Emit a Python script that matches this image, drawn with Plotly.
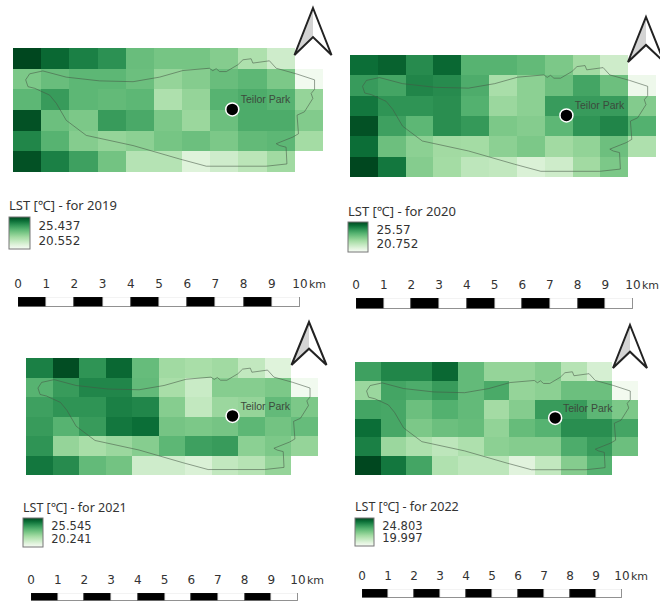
import plotly.graph_objects as go

YEARS = [2019, 2020, 2021, 2022]
LST_MAX = ["25.437", "25.57", "25.545", "24.803"]
LST_MIN = ["20.552", "20.752", "20.241", "19.997"]
N = None
LST_2019 = [
    [25.44, 24.95, 24.56, 24.26, 23.29, 23.09, 23.09, 22.85, 22.16, 21.53, N],
    [22.99, 23.29, 23.48, 23.48, 23.24, 22.60, 22.85, 23.29, 23.48, 22.99, 20.70],
    [23.48, 24.07, 23.48, 23.39, 23.48, 22.16, 22.60, 23.58, 23.73, 23.58, 22.60],
    [25.29, 23.24, 22.99, 24.07, 23.78, 22.99, 22.51, 23.24, 23.73, 23.73, 22.90],
    [24.46, 23.58, 22.85, 22.60, 22.75, 23.09, 23.24, 22.99, 23.39, 23.48, 22.36],
    [25.29, 24.56, 23.97, 23.14, 22.02, 22.02, 21.19, 21.53, 21.92, 22.41, N],
]
LST_2020 = [
    [24.99, 25.18, 24.51, 25.09, 23.74, 23.74, 23.55, 23.16, 22.58, 21.72, N],
    [24.22, 24.03, 24.61, 24.51, 23.88, 22.44, 22.92, 23.40, 24.03, 23.40, 20.99],
    [24.85, 24.37, 24.37, 24.46, 23.79, 22.68, 22.92, 24.22, 24.22, 24.22, 23.06],
    [25.43, 24.12, 23.64, 24.46, 24.27, 23.16, 23.02, 23.64, 24.37, 24.61, 23.79],
    [24.99, 23.40, 22.92, 22.58, 22.53, 22.92, 23.16, 22.58, 22.82, 23.40, 22.34],
    [25.57, 24.85, 23.02, 22.53, 22.05, 21.96, 21.48, 21.72, 22.58, 23.16, N],
]
LST_2021 = [
    [24.59, 25.44, 24.22, 25.01, 23.26, 22.26, 22.10, 22.26, 21.57, 20.93, N],
    [23.53, 24.06, 24.48, 24.48, 23.32, 22.10, 21.41, 22.73, 22.73, 22.89, 20.40],
    [23.95, 24.22, 24.22, 24.59, 24.48, 22.73, 21.57, 22.36, 22.47, 23.32, 22.89],
    [24.06, 23.53, 24.06, 24.75, 24.91, 23.00, 22.89, 23.00, 23.42, 23.05, 23.26],
    [24.22, 22.47, 22.10, 22.36, 22.73, 23.42, 23.95, 24.06, 22.63, 22.89, 22.47],
    [24.75, 24.38, 23.32, 23.05, 21.30, 21.30, 21.04, 21.57, 21.83, 22.47, N],
]
LST_2022 = [
    [23.36, 23.84, 23.84, 24.32, 22.78, 22.02, 22.02, 22.26, 21.44, 20.81, N],
    [21.92, 23.27, 23.12, 23.46, 22.78, 23.17, 22.02, 22.16, 22.64, 22.64, 20.14],
    [23.27, 23.22, 22.64, 23.03, 22.78, 21.78, 22.26, 23.46, 23.46, 22.88, 22.40],
    [24.23, 23.22, 22.40, 22.64, 22.74, 22.06, 22.74, 22.98, 23.70, 23.70, 23.27],
    [23.94, 21.92, 21.58, 21.29, 21.58, 22.16, 22.26, 22.26, 23.12, 23.46, 22.64],
    [24.80, 24.08, 23.27, 21.54, 21.29, 21.29, 20.57, 21.20, 22.26, 22.98, N],
]
GRIDS = [LST_2019, LST_2020, LST_2021, LST_2022]
BOUND_X = [.45, .59, 1.06, 1.89, 3.07, 4.26, 5.2, 6.03, 6.97, 7.09, 7.21, 7.33, 7.57, 7.98, 8.16, 8.45, 8.51, 9.1, 9.34,
           10.05, 10.7, 10.7, 10.58, 10.64, 10.34, 10.08, 10.13, 9.93, 9.34, 9.46, 9.69, 9.72, 8.98, 6.86, 5.91, 4.26,
           2.6, 1.89, 1.54, 1.3, .77, .53, .45]
BOUND_Y = [1.54, 1.25, 1.11, 1.41, 1.59, 1.63, 1.41, 1.09, .98, 1.1, 1.0, 1.14, 1.14, .81, .57, .52, .73, .62, .98,
           1.25, 1.54, 2.0, 2.2, 2.44, 3.09, 3.25, 4.15, 4.31, 4.63, 4.72, 4.8, 5.61, 5.72, 5.72, 5.37, 4.72,
           4.23, 3.5, 2.68, 2.28, 1.95, 1.87, 1.54]
PARK_X, PARK_Y = [7.78], [2.97]
PARK_LABEL_X, PARK_LABEL_Y = [8.08], [2.52]
PARK_LABEL = ["Teilor Park"]
SCALE_KM = list(range(11))
BAR_SEGMENTS = [1] * 10
GREENS = ["#f7fcf5", "#e0f3dc", "#c2e8bf", "#a3dba3", "#7cc888", "#55b270", "#2f9455", "#0c7038", "#00471f"]

W, H = 660, 601
MAP = [(13, 323, 48, 172), (350, 656, 55, 177), (26, 318, 358, 475), (355, 638, 362, 475)]
BAR = [(18, 300, 297, 307), (356, 633, 298, 309), (31, 298, 593, 602), (362, 622, 589, 598)]
LEG = [(9, 205, 9, 30, 217, 249), (348, 211, 348, 368, 222, 252), (23, 507, 23, 43, 518, 547), (355, 506, 355, 374, 518, 546)]
LEG_FONT = [12, 12, 11.5, 11.5]
ARROW = [(313, 8, 37, 47), (646, 17, 36, 45), (309, 322, 35, 43), (630, 325, 34, 43)]

fx = lambda p: p / W
fy = lambda p: 1 - p / H

fig = go.Figure()
layout = {}
shapes, annos = [], []
scale = [[i / (len(GREENS) - 1), c] for i, c in enumerate(GREENS)]

for i, year in enumerate(YEARS):
    a = i + 1
    xa, ya = f"x{a}", f"y{a}"
    l, r, t, b = MAP[i]
    layout[f"xaxis{a}"] = dict(domain=[fx(l), fx(r)], range=[0, 11], visible=False, anchor=ya)
    layout[f"yaxis{a}"] = dict(domain=[fy(b), fy(t)], range=[6, 0], visible=False, anchor=xa)
    tx, ty, bx0, bx1, by0, by1 = LEG[i]
    vmin, vmax = float(LST_MIN[i]), float(LST_MAX[i])
    span = vmax - vmin
    layout[f"coloraxis{a}"] = dict(
        cmin=vmin, cmax=vmax, colorscale=scale,
        colorbar=dict(
            x=fx(bx0), xanchor="left", y=fy(by0), yanchor="top",
            lenmode="pixels", len=by1 - by0, thicknessmode="pixels", thickness=bx1 - bx0,
            xpad=0, ypad=0, outlinecolor="#777", outlinewidth=1,
            tickmode="array", tickvals=[vmax - .27 * span, vmin + .27 * span],
            ticktext=[LST_MAX[i], LST_MIN[i]], ticks="outside", ticklen=6,
            tickcolor="rgba(0,0,0,0)", tickfont=dict(family="DejaVu Sans", size=LEG_FONT[i], color="#333"),
        ),
    )
    fig.add_trace(go.Heatmap(z=GRIDS[i], x=[c + .5 for c in range(11)], y=[c + .5 for c in range(6)],
                             coloraxis=f"coloraxis{a}", xaxis=xa, yaxis=ya, xgap=0, ygap=0, hoverongaps=False))
    fig.add_trace(go.Scatter(x=BOUND_X, y=BOUND_Y, mode="lines", xaxis=xa, yaxis=ya, showlegend=False,
                             line=dict(color="rgba(70,85,70,0.55)", width=1)))
    fig.add_trace(go.Scatter(x=PARK_X, y=PARK_Y, mode="markers", xaxis=xa, yaxis=ya, showlegend=False,
                             marker=dict(color="black", size=13, line=dict(color="white", width=1.5))))
    fig.add_trace(go.Scatter(x=PARK_LABEL_X, y=PARK_LABEL_Y, mode="text", xaxis=xa, yaxis=ya, showlegend=False,
                             text=PARK_LABEL, textposition="middle right",
                             textfont=dict(family="Liberation Sans", size=10.5, color="#3c4a3c")))
    # scale bar
    sa = a + 4
    l, r, t, b = BAR[i]
    layout[f"xaxis{sa}"] = dict(domain=[fx(l), min(fx(r), 1)], range=[0, 10], anchor=f"y{sa}", side="top",
                                showgrid=False, zeroline=False, showline=False, ticks="", ticklabelstandoff=6,
                                tickmode="array", tickvals=SCALE_KM, ticktext=[str(k) for k in SCALE_KM],
                                tickfont=dict(family="DejaVu Sans", size=12, color="#333"))
    layout[f"yaxis{sa}"] = dict(domain=[max(fy(b), 0), fy(t)], range=[0, 1], visible=False, anchor=f"x{sa}")
    fig.add_trace(go.Bar(x=BAR_SEGMENTS, y=[.5] * 10, orientation="h", width=1, xaxis=f"x{sa}", yaxis=f"y{sa}",
                         base=SCALE_KM[:10], showlegend=False,
                         marker=dict(color=["black" if k % 2 == 0 else "white" for k in range(10)],
                                     line=dict(color="#666", width=.8))))
    annos.append(dict(xref=f"x{sa}", yref="paper", x=10, y=fy(t - 13), text="km", showarrow=False, xanchor="left",
                      xshift=7, yanchor="middle", font=dict(family="DejaVu Sans", size=11, color="#333")))
    annos.append(dict(xref="paper", yref="paper", x=fx(tx), y=fy(ty), text=f"LST [℃] - for {year}", showarrow=False,
                      xanchor="left", yanchor="middle", xshift=-2,
                      font=dict(family="Noto Sans", size=13 if i < 2 else 12.5, color="#333")))
    # north arrow
    cx, top, w, h = ARROW[i]
    px = lambda d: fx(cx + d)
    py = lambda d: fy(top + d)
    notch = h * .62
    shapes.append(dict(type="path", xref="paper", yref="paper", fillcolor="#d4d4d4", line=dict(width=0),
                       path=f"M{px(0)},{py(2)} L{px(0)},{py(notch)} L{px(-w/2+1)},{py(h-1)} Z"))
    shapes.append(dict(type="path", xref="paper", yref="paper", fillcolor="rgba(0,0,0,0)",
                       line=dict(color="#222", width=2),
                       path=f"M{px(0)},{py(0)} L{px(w/2)},{py(h)} L{px(0)},{py(notch)} L{px(-w/2)},{py(h)} Z"))

fig.update_layout(width=W, height=H, margin=dict(l=0, r=0, t=0, b=0, autoexpand=False),
                  paper_bgcolor="white", plot_bgcolor="rgba(0,0,0,0)",
                  showlegend=False, bargap=0, barmode="overlay", shapes=shapes, annotations=annos, **layout)
fig.write_html("out.html", config={"displayModeBar": False},
               post_script="document.body.style.margin='0';document.body.style.overflow='hidden';")
